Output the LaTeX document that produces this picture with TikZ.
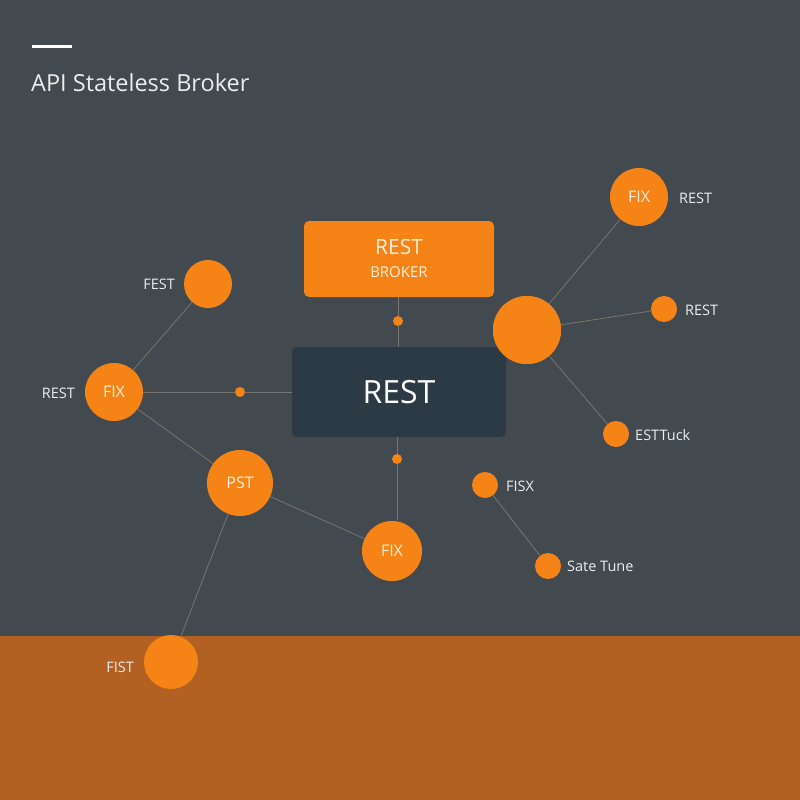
\documentclass[tikz,border=0pt]{standalone}
\usepackage{fontspec}
\setmainfont{Open Sans}
\definecolor{bg}{RGB}{66,73,79}
\definecolor{band}{RGB}{179,97,34}
\definecolor{orng}{RGB}{246,131,22}
\definecolor{darkbox}{RGB}{44,58,70}
\definecolor{edge}{RGB}{122,118,110}
\definecolor{cream}{RGB}{250,238,222}
\definecolor{lbl}{RGB}{235,237,238}
\tikzset{
  dot/.style={circle,fill=orng,draw=none,inner sep=0pt,minimum size=#1},
  conn/.style={draw=edge,line width=0.8pt},
  lab/.style={text=lbl,font=\fontsize{14.5}{16}\selectfont,inner sep=0pt},
  intext/.style={text=cream,font=\fontsize{16}{18}\selectfont},
}
\begin{document}
\begin{tikzpicture}[x=1pt,y=-1pt]
\useasboundingbox (0,0) rectangle (800,800);
\fill[bg] (0,0) rectangle (800,800);
\fill[band] (0,636) rectangle (800,800);
% title
\draw[white,line width=3pt] (32,47) -- (72,47);
\node[anchor=base west,inner sep=0pt,text=lbl,font=\fontsize{23.5}{26}\selectfont] (title) at (31,92) {API Stateless Broker};
% boxes
\node[fill=orng,rounded corners=5pt,minimum width=190pt,minimum height=76pt,inner sep=0pt] (broker) at (399,259) {};
\node[text=cream,font=\fontsize{21}{24}\selectfont] (brokerT) at (399,247) {REST};
\node[text=cream,font=\fontsize{15}{18}\selectfont] (brokerB) at (399,272) {BROKER};
\node[fill=darkbox,rounded corners=5pt,minimum width=214pt,minimum height=90pt,inner sep=0pt,text=white,font=\fontsize{32}{34}\selectfont] (core) at (399,392) {REST};
% small dots
\node[dot=10pt] (d1) at (398,321) {};
\node[dot=10pt] (d2) at (240,392) {};
\node[dot=10pt] (d3) at (397,459) {};
% circles
\node[dot=58pt,intext] (fixL) at (114,392) {FIX};
\node[dot=48pt] (fest) at (208,284) {};
\node[dot=66pt,intext] (pst) at (240,483) {PST};
\node[dot=60pt,intext] (fixB) at (392,551) {FIX};
\node[dot=54pt] (fist) at (171,662) {};
\node[dot=68pt] (big) at (527,330) {};
\node[dot=58pt,intext] (fixT) at (639,197) {FIX};
\node[dot=26pt] (r2) at (664,309) {};
\node[dot=26pt] (r3) at (616,434) {};
\node[dot=26pt] (fisx) at (485,485) {};
\node[dot=26pt] (sate) at (548,566) {};
% labels
\node[lab,anchor=east] (lfest) at (175,284) {FEST};
\node[lab,anchor=east] (lrest) at (75,393) {REST};
\node[lab,anchor=east] (lfist) at (134,667) {FIST};
\node[lab,anchor=west] (lt) at (679,198) {REST};
\node[lab,anchor=west] (lr2) at (685,310) {REST};
\node[lab,anchor=west] (lr3) at (635,435) {ESTTuck};
\node[lab,anchor=west] (lfisx) at (506,486) {FISX};
\node[lab,anchor=west] (lsate) at (567,566) {Sate Tune};
% connectors
\path[conn] (broker.south -| d1) -- (d1) -- (core.north -| d1);
\path[conn] (core.south -| d3) -- (d3) -- ([yshift=1pt]d3 |- fixB.north);
\path[conn] (fixL) -- (d2) -- (core.west);
\path[conn] (fixL) -- (fest);
\path[conn] (fixL) -- (pst);
\path[conn] (pst) -- (fixB);
\path[conn] (pst) -- (fist);
\path[conn] (big) -- (fixT);
\path[conn] (big) -- (r2);
\path[conn] (big) -- (r3);
\path[conn] (fisx) -- (sate);
% big circle drawn above the core box
\node[dot=68pt] (bigtop) at (big) {};
\end{tikzpicture}
\end{document}
